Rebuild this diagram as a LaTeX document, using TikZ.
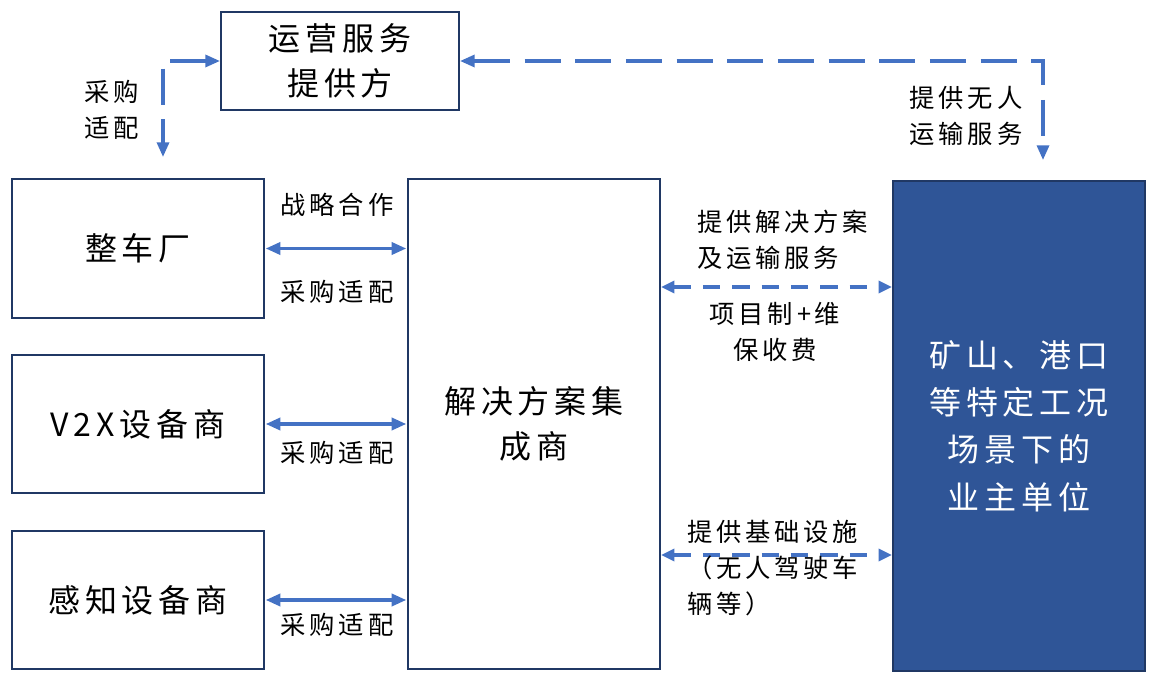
\documentclass[tikz,border=0pt]{standalone}
\usepackage{fontspec}
\newfontfamily\cjk{Noto Sans CJK SC}[LetterSpace=15]
\usetikzlibrary{arrows.meta}
\definecolor{navy}{HTML}{203864}
\definecolor{arrowblue}{HTML}{4472C4}
\definecolor{boxblue}{HTML}{2F5597}
\begin{document}
\begin{tikzpicture}[x=0.75pt,y=-0.75pt,
  box/.style={draw=navy, line width=1.5pt, fill=white, inner sep=0pt, align=center,
    font=\cjk\fontsize{24pt}{34pt}\selectfont},
  lbl/.style={inner sep=0pt, font=\cjk\fontsize{19pt}{27pt}\selectfont},
  solidarrow/.style={draw=arrowblue, line width=2.6pt,
    {Triangle[length=11pt,width=9pt]}-{Triangle[length=11pt,width=9pt]}, shorten <=0.5pt, shorten >=0.5pt},
  longdash/.style={draw=arrowblue, line width=2.4pt, dash pattern=on 27pt off 11pt,
    {Triangle[length=11pt,width=9pt]}-{Triangle[length=11pt,width=9pt]}},
  shortdash/.style={draw=arrowblue, line width=2.4pt, dash pattern=on 13pt off 9pt,
    {Triangle[length=10pt,width=9pt]}-{Triangle[length=10pt,width=9pt]}}
]
\useasboundingbox (0,0) rectangle (1159,684);

% boxes
\node[box, minimum width=178.5pt, minimum height=73.5pt] (yy) at (340,61) {运营服务\\提供方};
\node[box, minimum width=189pt, minimum height=104pt] (zc) at (138,248.5) {整车厂};
\node[box, minimum width=189pt, minimum height=103.5pt] (v2x) at (138,424) {V2X设备商};
\node[box, minimum width=189pt, minimum height=103.5pt] (gz) at (138,600) {感知设备商};
\node[box, minimum width=189pt, minimum height=367.5pt] (jc) at (534,424) {解决方案集\\成商};
\node[box, draw=navy, fill=boxblue, text=white, minimum width=189pt, minimum height=367.5pt,
  font=\cjk\fontsize{24pt}{35.5pt}\selectfont] (own) at (1019,426) {矿山、港口\\等特定工况\\场景下的\\业主单位};

% solid arrows
\draw[solidarrow] (zc.east) -- (jc.west |- zc.east);
\draw[solidarrow] (v2x.east) -- (jc.west |- v2x.east);
\draw[solidarrow] (gz.east) -- (jc.west |- gz.east);

% dashed arrows
\coordinate (lc) at (163,157);
\coordinate (rc) at (1043,160);
\coordinate (m1) at (0,287);
\coordinate (m2) at (0,555);
\draw[longdash] (yy.west) -| (lc);
\draw[longdash] (yy.east) -| (rc);
\draw[shortdash] (jc.east |- m1) -- (own.west |- m1);
\draw[shortdash] (jc.east |- m2) -- (own.west |- m2);

% labels
\node[lbl] (l1) at (337,205) {战略合作};
\node[lbl] (l2) at (337,292) {采购适配};
\node[lbl] (l3) at (337,453) {采购适配};
\node[lbl] (l4) at (337,625) {采购适配};
\node[lbl, align=center] (l5) at (112,110) {采购\\适配};
\node[lbl, align=center] (l6) at (966,116) {提供无人\\运输服务};
\node[lbl, align=left, anchor=west] (l7) at (697,240) {提供解决方案\\及运输服务};
\node[lbl, align=center] (l8) at (775,332) {项目制+维\\保收费};
\node[lbl, align=left, anchor=west] (l9) at (687,568) {提供基础设施\\（无人驾驶车\\辆等）};
\end{tikzpicture}
\end{document}
